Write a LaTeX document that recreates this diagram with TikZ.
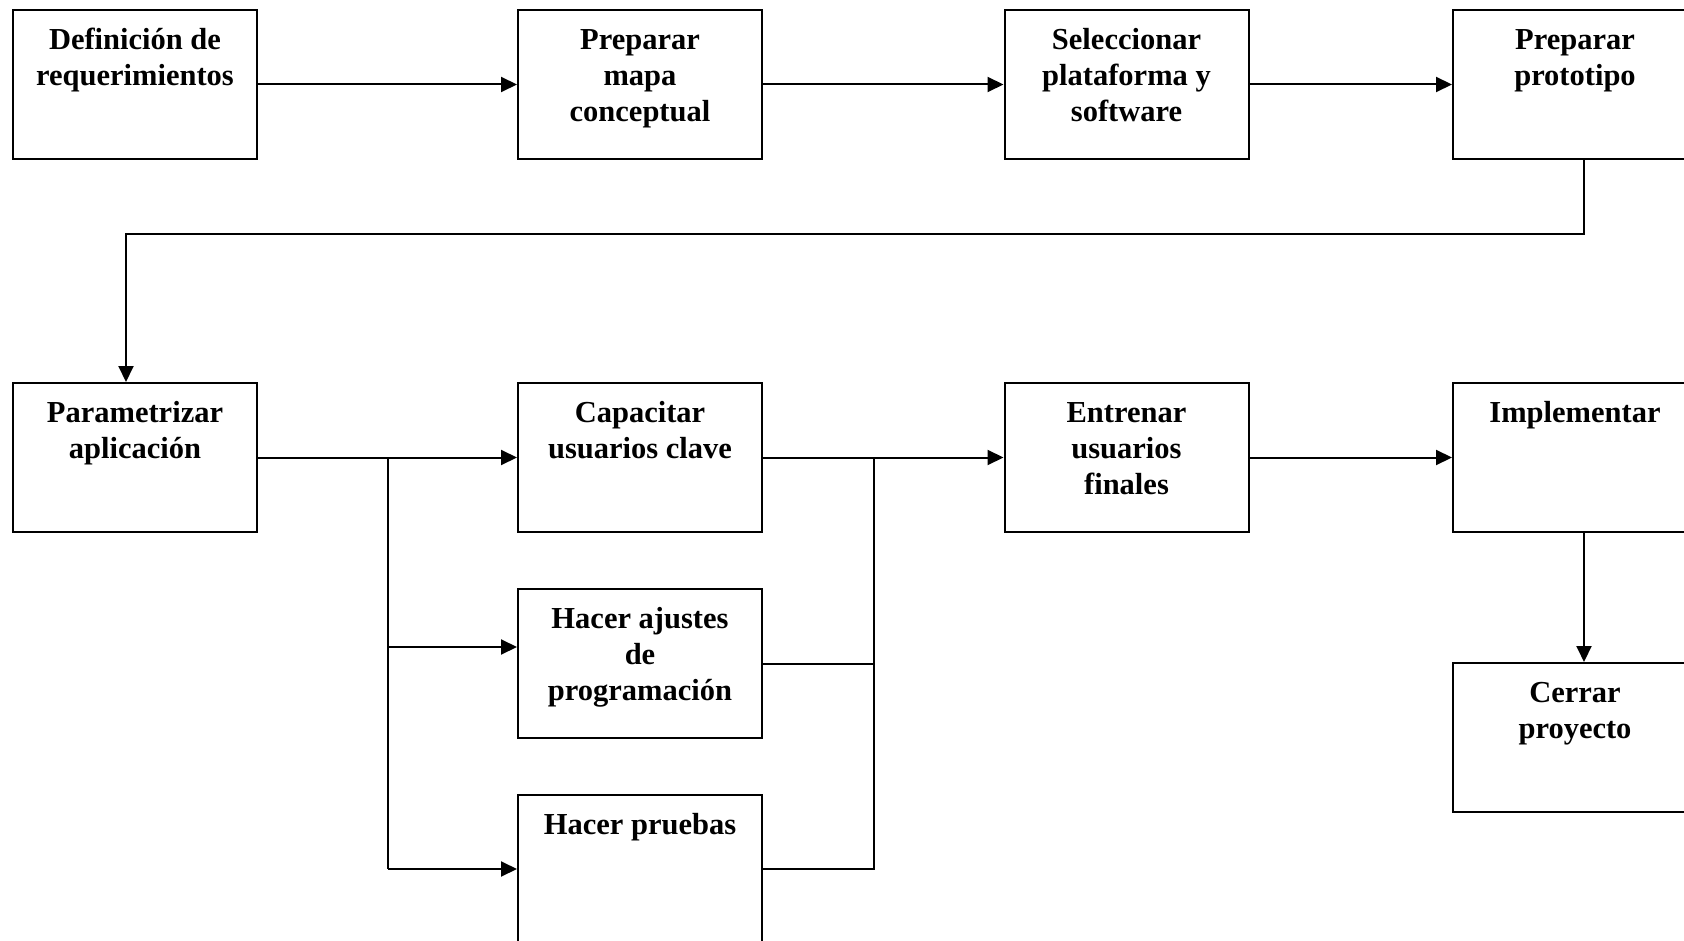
\documentclass[tikz,border=0pt]{standalone}
\usepackage{fontspec}
\setmainfont{Liberation Serif}
\usetikzlibrary{arrows.meta}
\begin{document}
\begin{tikzpicture}[x=1pt,y=-1pt,
  stepbox/.style={draw, line width=2pt, minimum width=244pt, minimum height=149pt, inner sep=0pt},
  steptext/.style={anchor=base, inner sep=0pt, font=\fontsize{30.5}{36}\selectfont\bfseries},
  link/.style={line width=2pt},
  arr/.style={link, -{Triangle[length=16pt,width=15pt]}}]
\useasboundingbox (0,0) rectangle (1684,941);
\clip (0,0) rectangle (1684,941);
\fill[white] (0,0) rectangle (1684,941);

% boxes: top row, second row, branches
\node[stepbox] (b1)  at (135,84.5)  {};
\node[stepbox] (b2)  at (640,84.5)  {};
\node[stepbox] (b3)  at (1126.5,84.5) {};
\node[stepbox] (b4)  at (1575,84.5) {};
\node[stepbox] (b5)  at (135,457.5) {};
\node[stepbox] (b6)  at (640,457.5) {};
\node[stepbox] (b7)  at (640,663.5) {};
\node[stepbox] (b8)  at (640,869)   {};
\node[stepbox] (b9)  at (1126.5,457.5) {};
\node[stepbox] (b10) at (1575,457.5) {};
\node[stepbox] (b11) at (1575,737.5) {};

% box captions
\newcommand{\boxcaption}[3]{\node[steptext] (#1) at ([yshift=-40.5pt]#2.north) {\begin{tabular}[t]{@{}c@{}}#3\end{tabular}};}
\boxcaption{t1}{b1}{Definición de\\requerimientos}
\boxcaption{t2}{b2}{Preparar\\mapa\\conceptual}
\boxcaption{t3}{b3}{Seleccionar\\plataforma y\\software}
\boxcaption{t4}{b4}{Preparar\\prototipo}
\boxcaption{t5}{b5}{Parametrizar\\aplicación}
\boxcaption{t6}{b6}{Capacitar\\usuarios clave}
\boxcaption{t7}{b7}{Hacer ajustes\\de\\programación}
\boxcaption{t8}{b8}{Hacer pruebas}
\boxcaption{t9}{b9}{Entrenar\\usuarios\\finales}
\boxcaption{t10}{b10}{Implementar}
\boxcaption{t11}{b11}{Cerrar\\proyecto}

% routing points
\coordinate (turnR) at (1584,234);
\coordinate (turnL) at (126,234);
\coordinate (split) at (388,457.5);
\coordinate (merge) at (874,457.5);
\coordinate (b7in) at ([yshift=16.5pt]b7.west);

% connectors
\draw[arr] (b1) -- (b2);
\draw[arr] (b2) -- (b3);
\draw[arr] (b3) -- (b4);
\draw[arr] (b4.south -| turnR) -- (turnR) -- (turnL) -- (b5.north -| turnL);
\draw[arr] (b5) -- (b6);
\draw[link] (split) -- (split |- b8.west);
\draw[arr] (split |- b7in) -- (b7in);
\draw[arr] (split |- b8.west) -- (b8.west);
\draw[arr] (b6) -- (b9);
\draw[link] (b7.east) -| (merge);
\draw[link] (b8.east) -| (merge);
\draw[arr] (b9) -- (b10);
\draw[arr] (b10.south -| turnR) -- (b11.north -| turnR);
\end{tikzpicture}
\end{document}
